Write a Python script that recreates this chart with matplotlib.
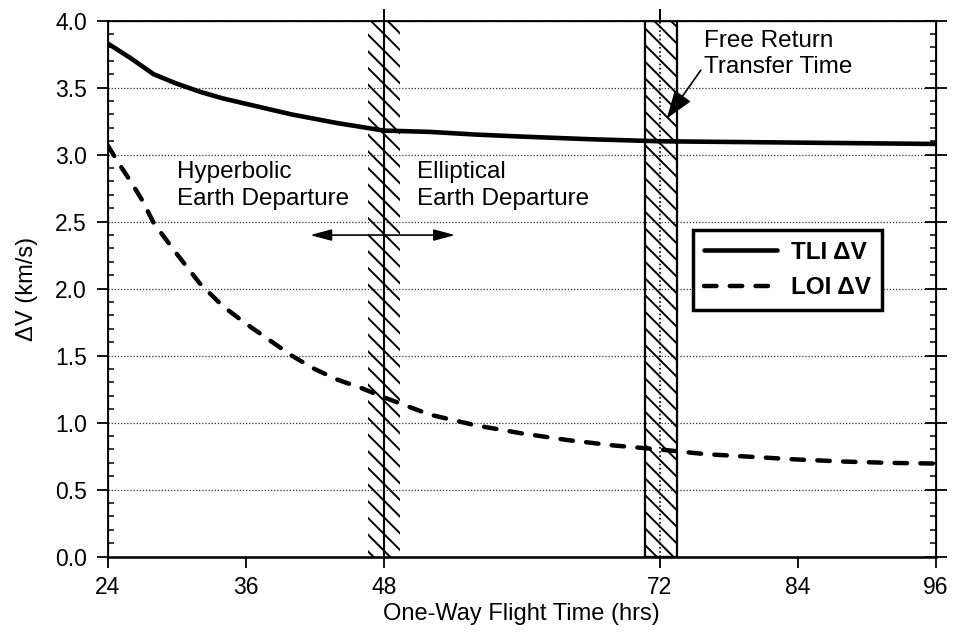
import numpy as np
import matplotlib
matplotlib.use("Agg")
import matplotlib.pyplot as plt
from matplotlib.ticker import MultipleLocator

plt.rcParams['font.family'] = ['Liberation Sans', 'DejaVu Sans']
plt.rcParams['hatch.linewidth'] = 1.4

# flight time (hrs) and delta-V (km/s)
tli_t = [24, 26, 28, 30, 32, 34, 36, 40, 44, 48, 52, 56, 60, 66, 72, 78, 84, 90, 96]
tli_dv = [3.83, 3.72, 3.60, 3.53, 3.47, 3.42, 3.38, 3.30, 3.235, 3.18, 3.17, 3.15, 3.135,
          3.115, 3.10, 3.095, 3.09, 3.085, 3.08]

loi_t = [24, 25, 26, 27, 28, 30, 32, 34, 36, 38, 40, 42, 44, 46, 48, 52, 56, 60, 64, 68,
         72, 76, 80, 84, 88, 92, 96]
loi_dv = [3.07, 2.93, 2.80, 2.66, 2.49, 2.26, 2.04, 1.87, 1.74, 1.62, 1.50, 1.40, 1.32, 1.26,
          1.19, 1.06, 0.98, 0.92, 0.87, 0.83, 0.80, 0.765, 0.745, 0.725, 0.71, 0.70, 0.695]

x_ticks = [24, 36, 48, 72, 84, 96]
band_48 = (46.6, 49.4)
band_72 = (70.7, 73.5)

fig = plt.figure(figsize=(9.59, 6.36), dpi=100)
ax = fig.add_axes([0.1123, 0.1247, 0.8637, 0.8428])

# shaded bands
ax.axvspan(*band_48, facecolor='none', edgecolor='black', lw=0, hatch='\\\\', zorder=1)
ax.axvspan(*band_72, facecolor='none', edgecolor='black', lw=1.6, hatch='\\\\', zorder=1)
ax.axvline(48, color='black', lw=1.5, zorder=2)
ax.axvline(72, color='black', lw=1.2, ls=(0, (1, 1.5)), zorder=2)

ax.plot(tli_t, tli_dv, color='black', lw=3.3, solid_capstyle='round', label='TLI ΔV', zorder=4)
ax.plot(loi_t, loi_dv, color='black', lw=3.2, dashes=(2.8, 3.0), dash_capstyle='round',
        label='LOI ΔV', zorder=4)

ax.set_xlim(24, 96)
ax.set_ylim(0, 4)
ax.set_xticks(x_ticks)
ax.yaxis.set_major_locator(MultipleLocator(0.5))
ax.yaxis.set_minor_locator(MultipleLocator(0.1))
ax.yaxis.set_major_formatter(matplotlib.ticker.FormatStrFormatter('%.1f'))
ax.grid(axis='y', which='major', color='#333333', lw=0.9, ls=(0, (1, 1.5)))
for s in ax.spines.values():
    s.set_linewidth(1.3)
ax.spines['bottom'].set_linewidth(1.8)

ax.tick_params(axis='x', which='major', direction='out', length=8, width=1.3,
               labelsize=16.5, pad=6)
ax.tick_params(axis='y', which='major', direction='out', length=8, width=1.3,
               labelsize=16.5, pad=7)
ax.tick_params(axis='y', which='minor', direction='in', length=4, width=1.1)

# right side ticks
ax2 = ax.twinx()
ax2.set_ylim(0, 4)
ax2.yaxis.set_major_locator(MultipleLocator(0.5))
ax2.yaxis.set_minor_locator(MultipleLocator(0.1))
ax2.tick_params(axis='y', which='major', direction='inout', length=16, width=1.3, labelright=False)
ax2.tick_params(axis='y', which='minor', direction='in', length=4, width=1.1)

# top ticks at the two band times
ax3 = ax.twiny()
ax3.set_xlim(24, 96)
ax3.set_xticks([48, 72])
ax3.tick_params(axis='x', direction='out', length=9, width=1.4, labeltop=False)

ax.set_xlabel('One-Way Flight Time (hrs)', fontsize=17, labelpad=3)
ax.set_ylabel('ΔV (km/s)', fontsize=17, labelpad=12)

txt = dict(fontsize=17.5, va='top', ha='left', linespacing=1.25)
ax.text(30.0, 2.95, 'Hyperbolic\nEarth Departure', **txt)
ax.text(50.9, 2.95, 'Elliptical\nEarth Departure', **txt)
ax.annotate('', xy=(41.6, 2.40), xytext=(54.2, 2.40),
            arrowprops=dict(arrowstyle='<|-|>,head_length=1.3,head_width=0.35',
                            color='black', lw=1.2, shrinkA=0, shrinkB=0))
ax.annotate('Free Return\nTransfer Time', xy=(72.6, 3.27), xytext=(75.8, 3.93),
            fontsize=17.5, va='top', ha='left', linespacing=1.25,
            arrowprops=dict(arrowstyle='-|>,head_length=1.0,head_width=0.35',
                            color='black', lw=1.2, shrinkA=0, shrinkB=0,
                            relpos=(0, 0.25)))

leg = ax.legend(loc='upper left', bbox_to_anchor=(0.7066, 0.6095),
                prop={'weight': 'bold', 'size': 17.5}, frameon=True, fancybox=False,
                framealpha=1, edgecolor='black', handlelength=3.0, handletextpad=0.6,
                borderpad=0.45, labelspacing=0.5, borderaxespad=0)
leg.get_frame().set_linewidth(2.5)
leg.set_zorder(5)

fig.savefig('out.png', dpi=100)
